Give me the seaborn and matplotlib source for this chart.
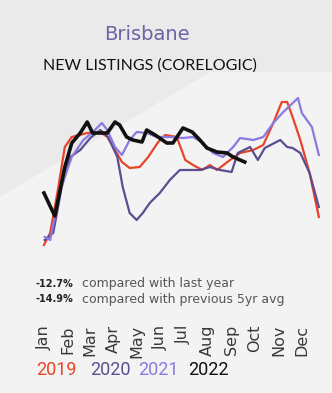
import matplotlib
matplotlib.use("Agg")
import matplotlib.pyplot as plt
import seaborn as sns
import pandas as pd
from matplotlib.patches import Polygon

# ---- data (day of year, relative new-listings level) ----
months = ["Jan", "Feb", "Mar", "Apr", "May", "Jun", "Jul", "Aug", "Sep", "Oct", "Nov", "Dec"]
month_days = [0, 31, 59, 90, 120, 151, 181, 212, 243, 273, 304, 334]

days_2019 = [0, 8, 18, 27, 36, 56, 73, 82, 92, 101, 111, 124, 135, 148, 157, 172, 183, 193, 205, 215,
             224, 241, 254, 271, 284, 297, 308, 315, 322, 332, 344, 356]
vals_2019 = [5, 17, 60, 103, 113, 117, 118, 113, 100, 88, 82, 83, 93, 108, 115, 113, 90, 85, 80, 85,
             80, 90, 97, 100, 105, 127, 148, 148, 133, 110, 77, 33]

days_2020 = [1, 12, 23, 34, 47, 60, 73, 83, 95, 102, 111, 120, 128, 137, 150, 163, 176, 189, 202, 215,
             228, 243, 251, 267, 277, 286, 306, 315, 322, 332, 344, 356]
vals_2020 = [10, 17, 63, 93, 100, 112, 120, 113, 93, 63, 37, 30, 37, 47, 57, 70, 80, 80, 80, 83,
             80, 78, 97, 103, 90, 102, 110, 103, 102, 97, 77, 43]

days_2021 = [1, 8, 21, 36, 51, 62, 75, 82, 92, 101, 111, 120, 133, 146, 163, 180, 193, 206, 219, 232,
             245, 254, 271, 284, 297, 310, 329, 334, 347, 356]
vals_2021 = [13, 10, 60, 93, 110, 117, 127, 120, 103, 95, 110, 118, 117, 113, 113, 112, 113, 107, 97, 93,
             103, 112, 110, 113, 127, 138, 152, 137, 123, 95]

days_2022 = [0, 14, 27, 36, 47, 56, 63, 82, 92, 98, 107, 115, 127, 133, 144, 159, 167, 180, 192, 202,
             211, 224, 237, 245, 260]
vals_2022 = [57, 34, 83, 107, 117, 128, 117, 117, 128, 125, 113, 110, 108, 120, 115, 107, 107, 122, 118, 110,
             102, 98, 97, 93, 88]

years = ["2019", "2020", "2021", "2022"]
colors = ["#e8442a", "#5c4d8e", "#8a7ae0", "#111111"]
widths = [1.6, 1.6, 1.6, 2.6]
series = [(days_2019, vals_2019), (days_2020, vals_2020), (days_2021, vals_2021), (days_2022, vals_2022)]

title = "Brisbane"
subtitle = "NEW LISTINGS (CORELOGIC)"
stat_values = ["-12.7%", "-14.9%"]
stat_texts = ["compared with last year", "compared with previous 5yr avg"]

# ---- figure ----
W, H = 332, 393
fig = plt.figure(figsize=(W / 100, H / 100), dpi=100)
fig.patch.set_facecolor("#eaeaea")

def fx(px):
    return px / W

def fy(py):
    return 1 - py / H

# lighter diagonal background region
poly = Polygon([(fx(0), fy(197)), (fx(210), fy(72)), (fx(332), fy(72)), (fx(332), fy(393)), (fx(0), fy(393))],
               closed=True, transform=fig.transFigure, facecolor="#f3f3f3", edgecolor="none", zorder=-5)
fig.patches.append(poly)

ax = fig.add_axes([fx(40.1), fy(250), fx(325.8) - fx(40.1), 155 / H])
ax.set_facecolor("none")
ax.set_zorder(2)

for (d, v), yr, c, lw in zip(series, years, colors, widths):
    df = pd.DataFrame({"day": d, "value": v})
    sns.lineplot(data=df, x="day", y="value", ax=ax, color=c, linewidth=lw, sort=False)

ax.set_xlim(-5, 365)
ax.set_ylim(0, 155)
ax.set_xlabel("")
ax.set_ylabel("")
ax.set_yticks([])
ax.set_xticks(month_days)
ax.set_xticklabels(months, rotation=90, fontsize=11.5, color="#3a3a3a", family="DejaVu Sans")
ax.tick_params(axis="x", length=0, pad=54)
for s in ax.spines.values():
    s.set_visible(False)

# titles
fig.text(fx(147), fy(34), title, ha="center", va="center", fontsize=14, color="#6b62a8", family="DejaVu Sans")
fig.text(fx(150), fy(66), subtitle, ha="center", va="center", fontsize=11.5, color="#111111", family="Lato")

# stats lines
for i, (sv, st) in enumerate(zip(stat_values, stat_texts)):
    yy = fy(284 + 15 * i)
    fig.text(fx(35), yy, sv, ha="left", va="center", fontsize=7, fontweight="bold", color="#222222",
             family="DejaVu Sans")
    fig.text(fx(82), yy, st, ha="left", va="center", fontsize=9, color="#555555", family="DejaVu Sans")

# year legend
year_x = [36, 90, 138, 188]
for yr, c, xx in zip(years, colors, year_x):
    fig.text(fx(xx), fy(370), yr, ha="left", va="center", fontsize=13, color=c, family="Roboto")

fig.savefig("out.png", dpi=100, facecolor=fig.get_facecolor())
